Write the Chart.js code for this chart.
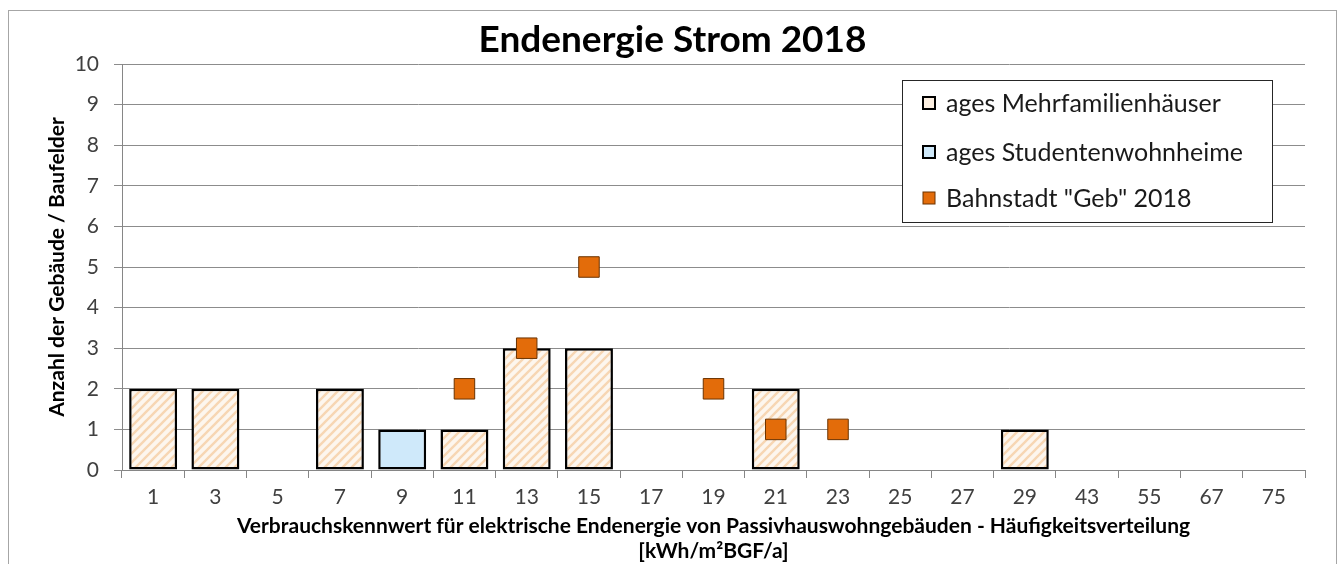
<!DOCTYPE html>
<html>
<head>
<meta charset="utf-8">
<script src="https://cdn.jsdelivr.net/npm/chart.js@4"></script>
<style>
  html, body { margin: 0; padding: 0; background: #fff; }
  #wrap { width: 1340px; height: 564px; }
</style>
</head>
<body>
<div id="wrap"><canvas id="chart" width="1340" height="564"></canvas></div>
<script>
// --- data ---
const categories = ['1','3','5','7','9','11','13','15','17','19','21','23','25','27','29','43','55','67','75'];
const mehrfamilien = [2, 2, null, 2, null, 1, 3, 3, null, null, 2, null, null, null, 1, null, null, null, null];
const studenten = [null, null, null, null, 1, null, null, null, null, null, null, null, null, null, null, null, null, null, null];
const bahnstadt = [null, null, null, null, null, 2, 3, 5, null, 2, 1, 1, null, null, null, null, null, null, null];
const yTicks = [0, 1, 2, 3, 4, 5, 6, 7, 8, 9, 10];

const FONT = 'Lato, "Open Sans", sans-serif';

// diagonal hatch used for the Mehrfamilienhäuser bars
function makeHatch() {
  const c = document.createElement('canvas');
  c.width = 9; c.height = 9;
  const g = c.getContext('2d');
  g.fillStyle = '#fdf6ee';
  g.fillRect(0, 0, 9, 9);
  g.strokeStyle = '#f7d6b3';
  g.lineWidth = 2.4;
  g.beginPath();
  g.moveTo(-2, 11); g.lineTo(11, -2);
  g.moveTo(-11, 11); g.lineTo(2, -2);
  g.moveTo(7, 11); g.lineTo(20, -2);
  g.stroke();
  return g.createPattern(c, 'repeat');
}

// outer frame of the picture
const framePlugin = {
  id: 'frame',
  beforeDraw(chart) {
    const ctx = chart.ctx;
    ctx.save();
    ctx.strokeStyle = '#a6a6a6';
    ctx.lineWidth = 1;
    ctx.strokeRect(8.5, 10.5, 1328, 600);
    ctx.restore();
  }
};

// legend box inside the plot, Excel style
const boxLegend = {
  id: 'boxLegend',
  afterDraw(chart) {
    const ctx = chart.ctx;
    const a = chart.chartArea;
    const x = a.right - 403, y = a.top + 16, w = 370, h = 142;
    ctx.save();
    ctx.fillStyle = '#fff';
    ctx.fillRect(x, y, w, h);
    ctx.strokeStyle = '#262626';
    ctx.lineWidth = 1;
    ctx.strokeRect(x + 0.5, y + 0.5, w, h);
    const rows = [y + 23, y + 72, y + 118];
    ctx.font = '25px ' + FONT;
    ctx.textBaseline = 'middle';
    chart.data.datasets.forEach((ds, i) => {
      const ry = rows[i];
      ctx.fillStyle = ds.legendFill;
      ctx.fillRect(x + 21, ry - 6, 12, 12);
      ctx.strokeStyle = ds.legendBorder;
      ctx.lineWidth = i === 2 ? 1 : 2;
      ctx.strokeRect(x + 21, ry - 6, 12, 12);
      ctx.fillStyle = '#1a1a1a';
      ctx.fillText(ds.label, x + 44, ry + 1);
    });
    ctx.restore();
  }
};

const hatch = makeHatch();

new Chart(document.getElementById('chart'), {
  data: {
    labels: categories,
    datasets: [
      {
        type: 'bar',
        label: 'ages Mehrfamilienhäuser',
        data: mehrfamilien,
        backgroundColor: hatch,
        borderColor: '#000',
        borderWidth: 2.5,
        borderSkipped: false,
        grouped: false,
        barPercentage: 0.77,
        categoryPercentage: 1,
        order: 2,
        legendFill: '#fdf0e2',
        legendBorder: '#000'
      },
      {
        type: 'bar',
        label: 'ages Studentenwohnheime',
        data: studenten,
        backgroundColor: '#cfe9fa',
        borderColor: '#000',
        borderWidth: 2.5,
        borderSkipped: false,
        grouped: false,
        barPercentage: 0.77,
        categoryPercentage: 1,
        order: 1,
        legendFill: '#cfe9fa',
        legendBorder: '#000'
      },
      {
        type: 'line',
        label: 'Bahnstadt "Geb" 2018',
        data: bahnstadt,
        showLine: false,
        pointStyle: 'rect',
        pointRadius: 14.5,
        pointBackgroundColor: '#e36c0a',
        pointBorderColor: '#6b3300',
        pointBorderWidth: 1,
        order: 0,
        legendFill: '#e36c0a',
        legendBorder: '#6b3300'
      }
    ]
  },
  options: {
    responsive: false,
    animation: false,
    events: [],
    layout: { padding: { top: 18, left: 40, right: 35, bottom: 0 } },
    plugins: {
      legend: { display: false },
      tooltip: { enabled: false },
      title: {
        display: true,
        text: 'Endenergie Strom 2018',
        color: '#000',
        font: { family: FONT, size: 37, weight: 'bold' },
        padding: { top: 0, bottom: 1.6 }
      }
    },
    scales: {
      x: {
        offset: true,
        grid: { display: true, drawOnChartArea: false, offset: true, tickLength: 8, color: '#868686' },
        border: { color: '#868686' },
        ticks: { color: '#404040', font: { family: FONT, size: 21 }, padding: 7, maxRotation: 0, autoSkip: false },
        title: {
          display: true,
          text: ['Verbrauchskennwert für elektrische Endenergie von Passivhauswohngebäuden - Häufigkeitsverteilung', '[kWh/m²BGF/a]'],
          color: '#000',
          font: { family: FONT, size: 21, weight: 'bold', lineHeight: 1.2 },
          padding: { top: 0, bottom: 0 }
        },
        afterFit(scale) { scale.height = 94; }
      },
      y: {
        min: 0,
        max: 10,
        afterBuildTicks(scale) { scale.ticks = yTicks.map(v => ({ value: v })); },
        grid: { color: '#8c8c8c', tickLength: 8 },
        border: { color: '#868686' },
        ticks: { color: '#404040', font: { family: FONT, size: 21 }, padding: 15 },
        title: {
          display: true,
          text: 'Anzahl der Gebäude / Baufelder',
          color: '#000',
          font: { family: FONT, size: 21, weight: 'bold' },
          padding: { top: 5, bottom: 0 }
        },
        afterFit(scale) { scale.width = 82; }
      }
    }
  },
  plugins: [framePlugin, boxLegend]
});
</script>
</body>
</html>
